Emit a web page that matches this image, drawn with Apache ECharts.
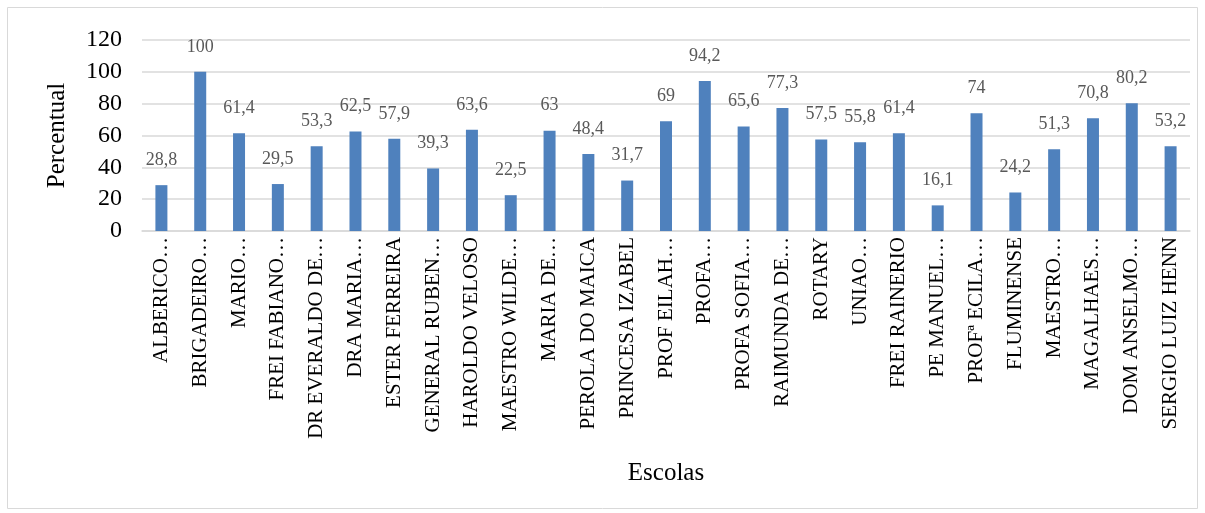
<!DOCTYPE html>
<html>
<head>
<meta charset="utf-8">
<script src="https://cdn.jsdelivr.net/npm/echarts@6/dist/echarts.min.js"></script>
<style>
  html, body { margin: 0; padding: 0; background: #fff; }
  #chart { width: 1205px; height: 513px; }
</style>
</head>
<body>
<div id="chart"></div>
<script>
// School names (truncated as in the report) and percentage per school
const escolas = [
  'ALBERICO…', 'BRIGADEIRO…', 'MARIO…', 'FREI FABIANO…', 'DR EVERALDO DE…',
  'DRA MARIA…', 'ESTER FERREIRA', 'GENERAL RUBEN…', 'HAROLDO VELOSO', 'MAESTRO WILDE…',
  'MARIA DE…', 'PEROLA DO MAICA', 'PRINCESA IZABEL', 'PROF EILAH…', 'PROFA…',
  'PROFA SOFIA…', 'RAIMUNDA DE…', 'ROTARY', 'UNIAO…', 'FREI RAINERIO',
  'PE MANUEL…', 'PROFª ECILA…', 'FLUMINENSE', 'MAESTRO…', 'MAGALHAES…',
  'DOM ANSELMO…', 'SERGIO LUIZ HENN'
];
const percentual = [
  28.8, 100, 61.4, 29.5, 53.3,
  62.5, 57.9, 39.3, 63.6, 22.5,
  63, 48.4, 31.7, 69, 94.2,
  65.6, 77.3, 57.5, 55.8, 61.4,
  16.1, 74, 24.2, 51.3, 70.8,
  80.2, 53.2
];
const yTicks = { min: 0, max: 120, interval: 20 };

const serif = 'Liberation Serif';

const chart = echarts.init(document.getElementById('chart'));
chart.setOption({
  animation: false,
  graphic: [{
    type: 'rect',
    shape: { x: 7.5, y: 7.5, width: 1190, height: 501 },
    style: { fill: 'none', stroke: '#d9d9d9', lineWidth: 1 },
    silent: true
  }],
  grid: { left: 142, right: 15, top: 40, bottom: 282 },
  xAxis: {
    type: 'category',
    data: escolas,
    name: 'Escolas',
    nameLocation: 'middle',
    nameGap: 230,
    nameTextStyle: { fontFamily: serif, fontSize: 25, color: '#000' },
    axisLine: { lineStyle: { color: '#d9d9d9', width: 1.5 } },
    axisTick: { show: false },
    axisLabel: {
      interval: 0,
      rotate: 90,
      margin: 6,
      fontFamily: serif,
      fontSize: 21,
      color: '#000'
    }
  },
  yAxis: {
    type: 'value',
    min: yTicks.min,
    max: yTicks.max,
    interval: yTicks.interval,
    name: 'Percentual',
    nameLocation: 'middle',
    nameGap: 72,
    nameTextStyle: { fontFamily: serif, fontSize: 25, color: '#000' },
    axisLine: { show: false },
    axisTick: { show: false },
    axisLabel: { fontFamily: serif, fontSize: 24, color: '#000', margin: 20 },
    splitLine: { lineStyle: { color: '#d9d9d9', width: 1.5 } }
  },
  series: [{
    type: 'bar',
    data: percentual,
    barWidth: 12,
    itemStyle: { color: '#4f81bd' },
    label: {
      show: true,
      position: 'top',
      distance: 16,
      fontFamily: serif,
      fontSize: 18,
      color: '#595959',
      formatter: p => String(p.value).replace('.', ',')
    }
  }]
});
</script>
</body>
</html>
